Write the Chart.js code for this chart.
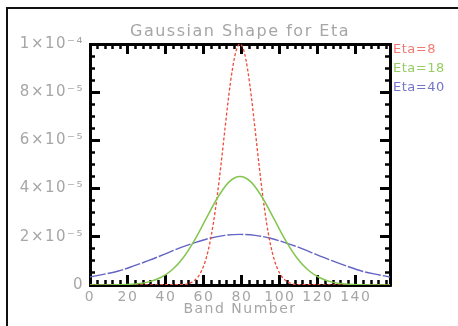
<!DOCTYPE html>
<html>
<head>
<meta charset="utf-8">
<script src="https://cdn.jsdelivr.net/npm/chart.js@4.4.1/dist/chart.umd.min.js"></script>
<style>
  body { margin: 0; background: #fff; }
  #wrap { position: relative; width: 458px; height: 326px; overflow: hidden; }
  #frame { position: absolute; left: 6px; top: 7px; width: 470px; height: 340px;
           border-left: 2px solid #111; border-top: 2px solid #111; pointer-events: none; }
  canvas { position: absolute; left: 0; top: 0; }
</style>
</head>
<body>
<div id="wrap">
  <canvas id="chart" width="458" height="326"></canvas>
  <div id="frame"></div>
</div>
<script>
// values, y in units of 1e-5
const labels = ["Eta=8", "Eta=18", "Eta=40"];

const redBands = [0, 49, 51, 53, 55, 57, 59, 61, 63, 65, 67, 69, 71, 73, 75, 77, 79,
  81, 83, 85, 87, 89, 91, 93, 95, 97, 99, 101, 103, 105, 107, 109, 158];
const eta8 = [0, 0.02, 0.04, 0.09, 0.19, 0.35, 0.63, 1.06, 1.70, 2.58, 3.69, 5.00, 6.42, 7.80, 8.95, 9.73, 10.0,
  9.73, 8.95, 7.80, 6.42, 5.00, 3.69, 2.58, 1.70, 1.06, 0.63, 0.35, 0.19, 0.09, 0.04, 0.02, 0];

const greenBands = [0, 19, 25, 31, 37, 43, 49, 55, 61, 67, 73, 79, 85, 91, 97, 103, 109, 115, 121, 127, 133, 139, 158];
const eta18 = [0, 0.02, 0.05, 0.13, 0.30, 0.61, 1.12, 1.85, 2.73, 3.60, 4.26, 4.50, 4.26, 3.60, 2.73, 1.85, 1.12, 0.61, 0.30, 0.13, 0.05, 0.02, 0];

const blueBands = [0, 7, 15, 23, 31, 39, 47, 55, 63, 71, 79, 87, 95, 103, 111, 119, 127, 135, 143, 151, 158];
const eta40 = [0.33, 0.44, 0.58, 0.79, 1.02, 1.27, 1.53, 1.75, 1.94, 2.06, 2.10, 2.06, 1.94, 1.75, 1.53, 1.27, 1.02, 0.79, 0.58, 0.44, 0.33];

const yTickLabels = ["0", "2×10⁻⁵", "4×10⁻⁵", "6×10⁻⁵", "8×10⁻⁵", "1×10⁻⁴"];

const lineColors = ["#f04a38", "#82c64e", "#6464c4"];
const legendColors = ["#f07a72", "#96cc66", "#7474c8"];
const gray = "#a6a6a6";
const font = "DejaVu Sans";

const pts = (xs, ys) => xs.map((x, i) => ({ x: x, y: ys[i] }));

const X_MIN = 0, X_MAX = 158, Y_MIN = 0, Y_MAX = 10;

function tickAxis(position, step, len, width, weight, extra) {
  const horiz = position === "top" || position === "bottom";
  return Object.assign({
    type: "linear",
    position: position,
    weight: weight,
    min: horiz ? X_MIN : Y_MIN,
    max: horiz ? X_MAX : Y_MAX,
    ticks: { display: false, stepSize: step, includeBounds: false, autoSkip: false },
    grid: { drawOnChartArea: false, drawTicks: true, tickLength: -len, tickWidth: width, tickColor: "#000" },
    border: { display: true, color: "#000", width: 3 },
    afterFit: (s) => { if (horiz) s.height = 0; else s.width = 0; },
  }, extra || {});
}

const spacing = {
  id: "spacing",
  beforeDraw(chart) { chart.ctx.letterSpacing = "1.5px"; },
};

const sideLegend = {
  id: "sideLegend",
  afterDraw(chart) {
    const ctx = chart.ctx;
    const a = chart.chartArea;
    ctx.save();
    ctx.letterSpacing = "0.5px";
    ctx.font = "13px '" + font + "'";
    ctx.textBaseline = "middle";
    ctx.textAlign = "left";
    chart.data.datasets.forEach((ds, i) => {
      ctx.fillStyle = legendColors[i];
      ctx.fillText(ds.label, a.right + 3, a.top + 6 + i * 19);
    });
    ctx.restore();
  },
};

new Chart(document.getElementById("chart"), {
  type: "line",
  data: {
    datasets: [
      { label: labels[0], data: pts(redBands, eta8), borderColor: lineColors[0], borderWidth: 1.3, borderDash: [3, 2], order: 2 },
      { label: labels[1], data: pts(greenBands, eta18), borderColor: lineColors[1], borderWidth: 1.5, order: 1 },
      { label: labels[2], data: pts(blueBands, eta40), borderColor: lineColors[2], borderWidth: 1.4, borderDash: [16, 2], order: 3 },
    ],
  },
  options: {
    responsive: false,
    animation: false,
    devicePixelRatio: 1,
    layout: { padding: { left: 0, right: 68, top: 0, bottom: 0 } },
    elements: {
      point: { radius: 0 },
      line: { cubicInterpolationMode: "monotone", fill: false },
    },
    plugins: {
      legend: { display: false },
      tooltip: { enabled: false },
      title: {
        display: true,
        fullSize: false,
        text: "Gaussian Shape for Eta",
        color: gray,
        font: { family: font, size: 16, weight: "normal" },
        padding: { top: 22, bottom: 2.8 },
      },
    },
    scales: {
      x: tickAxis("bottom", 20, 10, 3, 1, {
        ticks: { display: true, stepSize: 20, includeBounds: false, autoSkip: false, maxRotation: 0,
                 padding: 14, color: gray, font: { family: font, size: 14 } },
        border: { display: false },
        title: { display: true, text: "Band Number", color: gray,
                 font: { family: font, size: 14 }, padding: { top: 0, bottom: 8 } },
        afterFit: (s) => { s.height = 41; },
      }),
      xMinor: tickAxis("bottom", 4, 5, 2.5, 0),
      xTop: tickAxis("top", 20, 10, 3, 1, { border: { display: false } }),
      xTopMinor: tickAxis("top", 4, 5, 2.5, 0),
      y: tickAxis("left", 2, 10, 3, 1, {
        ticks: { display: true, stepSize: 2, includeBounds: false, autoSkip: false,
                 padding: 16, color: gray, font: { family: font, size: 15 },
                 callback: (v) => yTickLabels[Math.round(v / 2)] },
        border: { display: false },
        afterFit: (s) => { s.width = 90; },
      }),
      yMinor: tickAxis("left", 0.5, 5, 2.5, 0),
      yRight: tickAxis("right", 2, 10, 3, 1, { border: { display: false } }),
      yRightMinor: tickAxis("right", 0.5, 5, 2.5, 0),
    },
  },
  plugins: [spacing, sideLegend],
});
</script>
</body>
</html>
